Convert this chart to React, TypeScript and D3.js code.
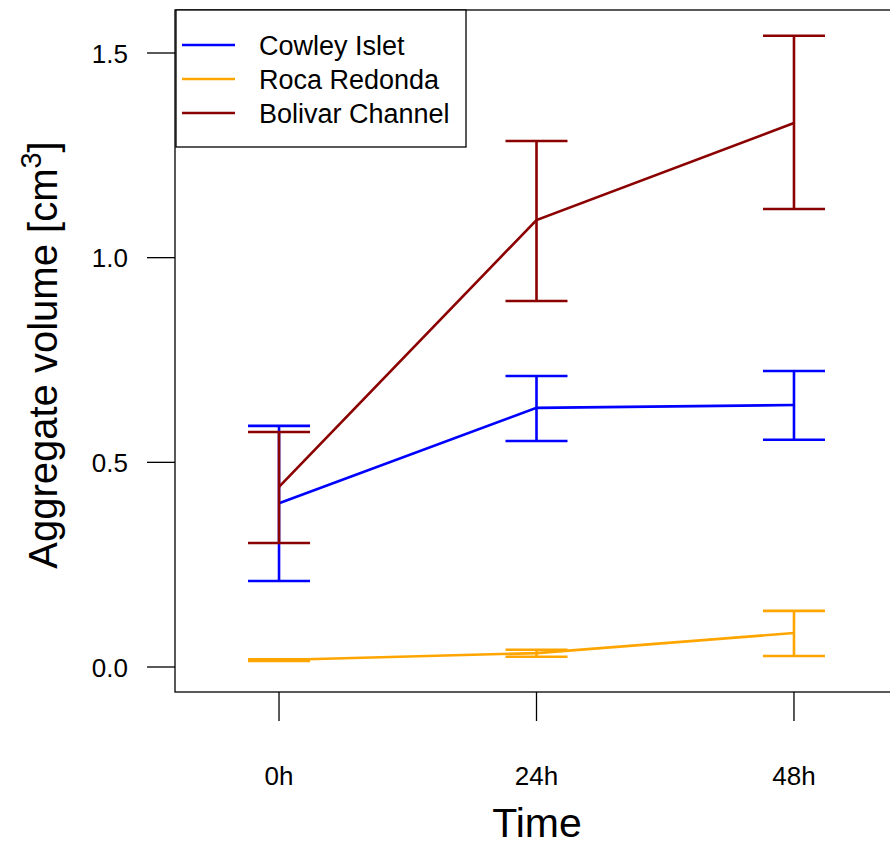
import React from 'react';
import * as d3 from 'd3';

const TIMES = ['0h', '24h', '48h'];
const SITES = ['Cowley Islet', 'Roca Redonda', 'Bolivar Channel'];
const COLORS = ['#0000FF', '#FFA500', '#8B0000'];

// mean, lower and upper bound per time point
const cowleyMean = [0.40, 0.633, 0.640];
const cowleyLow = [0.21, 0.552, 0.555];
const cowleyHigh = [0.589, 0.711, 0.723];

const rocaMean = [0.017, 0.034, 0.083];
const rocaLow = [0.015, 0.025, 0.027];
const rocaHigh = [0.019, 0.042, 0.137];

const bolivarMean = [0.44, 1.092, 1.329];
const bolivarLow = [0.303, 0.894, 1.119];
const bolivarHigh = [0.574, 1.285, 1.542];

const Y_TICKS = [0, 0.5, 1.0, 1.5];

const W = 890;
const H = 842;
const FONT = '"Liberation Sans", Arial, Helvetica, sans-serif';

export default function App() {
  const box = { left: 175, right: 898, top: 10, bottom: 692 };

  const x = d3.scaleLinear().domain([0.596, 3.404]).range([box.left, box.right]);
  const y = d3.scaleLinear().domain([0, 1.5]).range([667, 53]);

  const series = [
    { name: SITES[0], color: COLORS[0], mean: cowleyMean, low: cowleyLow, high: cowleyHigh },
    { name: SITES[1], color: COLORS[1], mean: rocaMean, low: rocaLow, high: rocaHigh },
    { name: SITES[2], color: COLORS[2], mean: bolivarMean, low: bolivarLow, high: bolivarHigh },
  ];

  const line = d3.line<number>()
    .x((_, i) => x(i + 1))
    .y(d => y(d));

  const capHalf = 31;
  const lw = 2.6;

  return (
    <svg width={W} height={H} style={{ position: 'absolute', left: 0, top: 0, background: '#fff' }}>
      <rect x={0} y={0} width={W} height={H} fill="#fff" />

      {series.map(s => (
        <g key={s.name} stroke={s.color} strokeWidth={lw} fill="none">
          <path d={line(s.mean) || ''} />
          {s.mean.map((_, i) => {
            const cx = x(i + 1);
            return (
              <g key={i}>
                <line x1={cx} x2={cx} y1={y(s.low[i])} y2={y(s.high[i])} />
                <line x1={cx - capHalf} x2={cx + capHalf} y1={y(s.low[i])} y2={y(s.low[i])} />
                <line x1={cx - capHalf} x2={cx + capHalf} y1={y(s.high[i])} y2={y(s.high[i])} />
              </g>
            );
          })}
        </g>
      ))}

      {/* plot box */}
      <rect x={box.left} y={box.top} width={box.right - box.left} height={box.bottom - box.top}
        fill="none" stroke="#000" strokeWidth={1.3} />

      {/* y axis */}
      {Y_TICKS.map(t => (
        <g key={t}>
          <line x1={147} x2={box.left} y1={y(t)} y2={y(t)} stroke="#000" strokeWidth={1.3} />
          <text x={128} y={y(t) + 9.5} textAnchor="end" fontSize={26} fontFamily={FONT}>
            {d3.format('.1f')(t)}
          </text>
        </g>
      ))}

      {/* x axis */}
      {TIMES.map((t, i) => (
        <g key={t}>
          <line x1={x(i + 1)} x2={x(i + 1)} y1={box.bottom} y2={721} stroke="#000" strokeWidth={1.3} />
          <text x={x(i + 1)} y={785} textAnchor="middle" fontSize={26} fontFamily={FONT}>{t}</text>
        </g>
      ))}

      <text x={537} y={837} textAnchor="middle" fontSize={41} fontFamily={FONT}>Time</text>
      <text transform="translate(57,355) rotate(-90)" textAnchor="middle" fontSize={40} fontFamily={FONT}>
        Aggregate volume [cm<tspan dy="-16" fontSize={29}>3</tspan><tspan dy="16">]</tspan>
      </text>

      {/* legend */}
      <rect x={176} y={10} width={290} height={137} fill="#fff" stroke="#000" strokeWidth={1.3} />
      {series.map((s, i) => (
        <g key={s.name}>
          <line x1={182} x2={235} y1={45 + i * 34} y2={45 + i * 34} stroke={s.color} strokeWidth={lw} />
          <text x={259} y={45 + i * 34 + 9.8} fontSize={27} fontFamily={FONT}>{s.name}</text>
        </g>
      ))}
    </svg>
  );
}
